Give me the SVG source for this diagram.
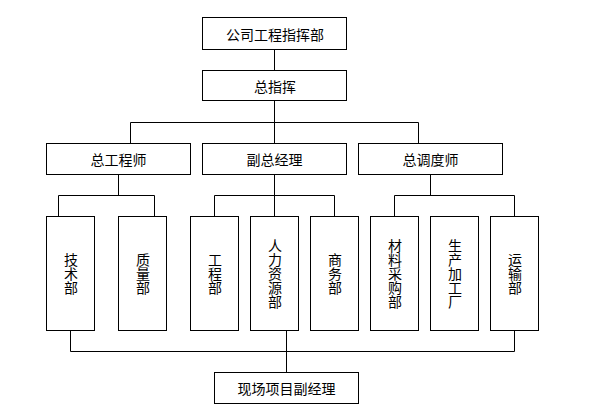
<svg xmlns="http://www.w3.org/2000/svg" width="592" height="411" viewBox="0 0 592 411">
<style>
rect{fill:#fff;stroke:#000;stroke-width:1}
.c path{fill:none;stroke:#000;stroke-width:1}
text{font-family:"Noto Sans CJK SC","Noto Sans CJK TC",sans-serif;font-size:14px;fill:#000;text-anchor:middle;dominant-baseline:central}
text.v{writing-mode:vertical-rl}
</style>
<rect x="0" y="0" width="592" height="411" style="stroke:none"/>
<g class="c" id="connectors">
<path d="M274.5 49.5V70.5M274.5 100.5V122.5M130.5 122.5H418.5M130.5 122.5V143.5M274.5 122.5V143.5M418.5 122.5V143.5"/>
<path d="M118.5 174.5V195.5M274.5 174.5V195.5M430.5 174.5V195.5"/>
<path d="M58.5 195.5H154.5M58.5 195.5V216.5M154.5 195.5V216.5"/>
<path d="M214.5 195.5H334.5M214.5 195.5V216.5M274.5 195.5V216.5M334.5 195.5V216.5"/>
<path d="M394.5 195.5H514.5M394.5 195.5V216.5M514.5 195.5V216.5"/>
<path d="M70.5 330.5V351.5M286.5 330.5V372.5M514.5 330.5V351.5M70.5 351.5H514.5"/>
</g>
<g id="n-company"><rect x="202.5" y="17.5" width="144" height="32"/><text x="275" y="34">公司工程指挥部</text></g>
<g id="n-chief"><rect x="202.5" y="70.5" width="144" height="30"/><text x="275" y="86">总指挥</text></g>
<g id="n-chief-eng"><rect x="46.5" y="143.5" width="144" height="31"/><text x="118.5" y="159">总工程师</text></g>
<g id="n-deputy"><rect x="202.5" y="143.5" width="144" height="31"/><text x="274.5" y="159">副总经理</text></g>
<g id="n-dispatch"><rect x="358.5" y="143.5" width="144" height="31"/><text x="430.5" y="159">总调度师</text></g>
<g id="n-tech"><rect x="46.5" y="216.5" width="48" height="114"/><text class="v" x="71" y="274">技术部</text></g>
<g id="n-quality"><rect x="118.5" y="216.5" width="48" height="114"/><text class="v" x="143" y="274">质量部</text></g>
<g id="n-eng"><rect x="190.5" y="216.5" width="48" height="114"/><text class="v" x="215" y="274">工程部</text></g>
<g id="n-hr"><rect x="250.5" y="216.5" width="48" height="114"/><text class="v" x="275" y="274">人力资源部</text></g>
<g id="n-biz"><rect x="310.5" y="216.5" width="48" height="114"/><text class="v" x="335" y="274">商务部</text></g>
<g id="n-purchase"><rect x="370.5" y="216.5" width="48" height="114"/><text class="v" x="395" y="274">材料采购部</text></g>
<g id="n-factory"><rect x="430.5" y="216.5" width="48" height="114"/><text class="v" x="455" y="274">生产加工厂</text></g>
<g id="n-transport"><rect x="490.5" y="216.5" width="48" height="114"/><text class="v" x="515" y="274">运输部</text></g>
<g id="n-site"><rect x="214.5" y="372.5" width="144" height="31"/><text x="286.5" y="388">现场项目副经理</text></g>
</svg>
